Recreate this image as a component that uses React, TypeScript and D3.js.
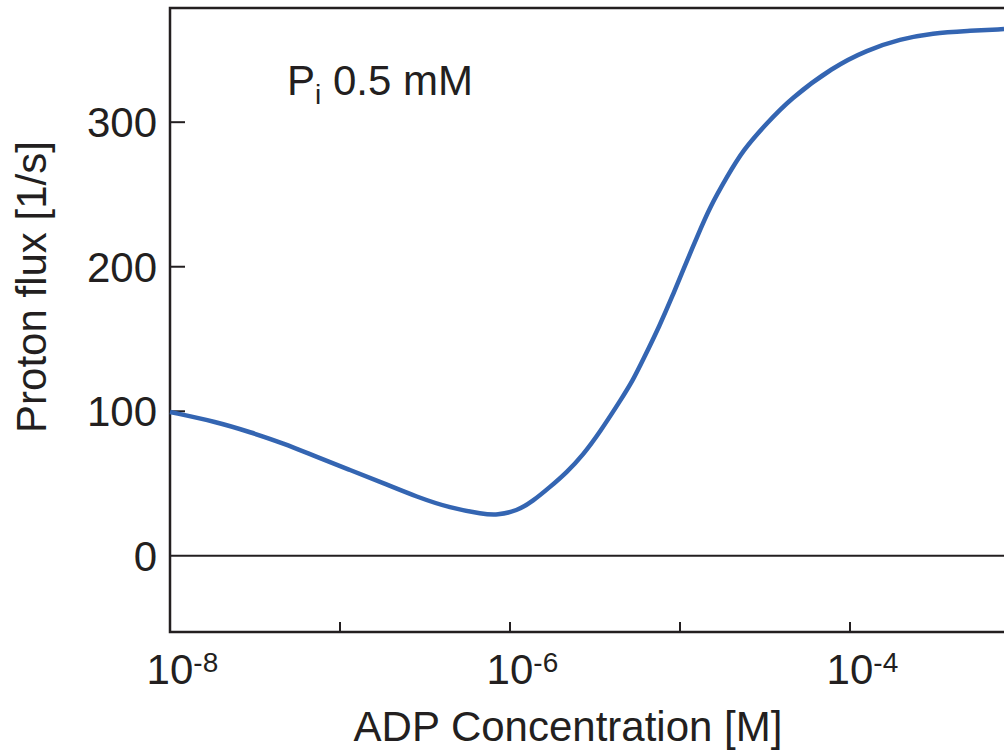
import React from "react";
import * as d3 from "d3";

// ADP concentration as log10 [M]
const logAdp = [
  -8.0, -7.724, -7.529, -7.335, -7.135, -6.941, -6.747, -6.547, -6.353, -6.159,
  -6.076, -5.959, -5.865, -5.765, -5.665, -5.571, -5.471, -5.341, -5.276, -5.218,
  -5.118, -5.047, -4.982, -4.9, -4.824, -4.724, -4.629, -4.488, -4.353,
  -4.1, -3.9, -3.706, -3.512, -3.312, -3.094,
];
// proton flux [1/s]
const flux = [
  99.5, 92.6, 85.6, 78.0, 68.3, 59.4, 50.4, 40.7, 33.1, 28.9,
  28.2, 31.0, 37.9, 47.6, 57.9, 69.7, 85.6, 109.2, 121.7, 135.4,
  159.7, 179.0, 197.7, 220.5, 241.3, 262.1, 280.8, 299.4, 316.0,
  338.2, 349.9, 357.5, 361.7, 363.1, 364.4,
];

const yTicks = [0, 100, 200, 300];
const xTickExp = [-8, -7, -6, -5, -4, -3];
const xLabelExp = [-8, -6, -4];

const W = 1004;
const H = 751;
const FONT = "'Liberation Sans', Arial, Helvetica, sans-serif";
const INK = "#231f20";
const BLUE = "#3465b2";

export default function App() {
  const x = d3.scaleLog().domain([1e-8, 1e-3]).range([170, 1020]);
  const y = d3.scaleLinear().domain([-52.7, 379]).range([632, 8]);

  const pts: [number, number][] = logAdp.map((l, i) => [Math.pow(10, l), flux[i]]);
  const line = d3
    .line<[number, number]>()
    .x((d) => x(d[0]))
    .y((d) => y(d[1]))
    .curve(d3.curveBasis);

  const [x0, x1] = x.range();
  const [yb, yt] = y.range();

  return (
    <svg
      width={W}
      height={H}
      style={{ position: "absolute", left: 0, top: 0, background: "#fff" }}
      fontFamily={FONT}
    >
      {/* frame */}
      <path
        d={`M${x1},${yt}H${x0}V${yb}H${x1}`}
        fill="none"
        stroke={INK}
        strokeWidth={2.5}
      />
      {/* zero line */}
      <line x1={x0} x2={x1} y1={y(0)} y2={y(0)} stroke={INK} strokeWidth={2} />

      {/* y ticks */}
      {yTicks.map((t) => (
        <g key={t}>
          {t !== 0 && (
            <line x1={x0} x2={x0 + 15} y1={y(t)} y2={y(t)} stroke={INK} strokeWidth={2} />
          )}
          <text
            x={157}
            y={y(t)}
            dy="0.36em"
            textAnchor="end"
            fontSize={42}
            fill={INK}
          >
            {t}
          </text>
        </g>
      ))}

      {/* x ticks */}
      {xTickExp.map((e) => (
        <line
          key={e}
          x1={x(Math.pow(10, e))}
          x2={x(Math.pow(10, e))}
          y1={yb}
          y2={yb - 10}
          stroke={INK}
          strokeWidth={2}
        />
      ))}
      {xLabelExp.map((e) => (
        <text
          key={e}
          x={x(Math.pow(10, e)) - 23.4}
          y={684}
          fontSize={42}
          fill={INK}
        >
          10
          <tspan fontSize={28} dy={-12}>
            {e}
          </tspan>
        </text>
      ))}

      {/* axis titles */}
      <text x={568} y={741} textAnchor="middle" fontSize={42} fill={INK}>
        ADP Concentration [M]
      </text>
      <text
        transform="translate(46,287) rotate(-90)"
        textAnchor="middle"
        fontSize={42}
        fill={INK}
      >
        Proton flux [1/s]
      </text>

      {/* annotation */}
      <text x={287} y={95} fontSize={42} fill={INK}>
        P
        <tspan fontSize={28} dy={9}>
          i
        </tspan>
        <tspan dy={-9}> 0.5 mM</tspan>
      </text>

      {/* curve */}
      <path d={line(pts) ?? ""} fill="none" stroke={BLUE} strokeWidth={4.5} />
    </svg>
  );
}
